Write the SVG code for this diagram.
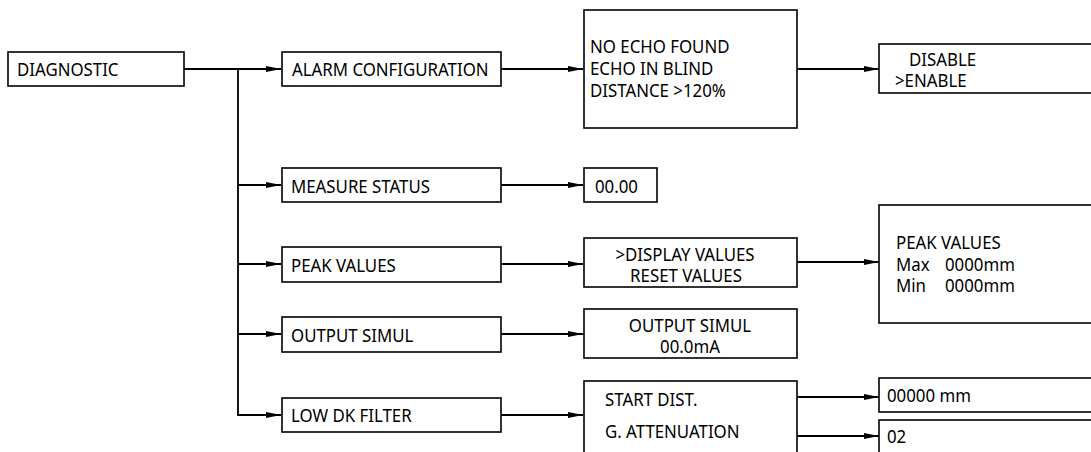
<svg xmlns="http://www.w3.org/2000/svg" width="1091" height="452" viewBox="0 0 1091 452">
<style>
.box{fill:#fff;stroke:#000;stroke-width:1.6}
.t{font-family:"Noto Sans","Liberation Sans",sans-serif;font-size:18.5px;fill:#000;transform-box:fill-box;transform-origin:0 50%;transform:scaleX(0.91)}
.c{text-anchor:middle;transform-origin:50% 50%}
.ln{fill:none;stroke:#000;stroke-width:1.8}
</style>
<defs>
<marker id="ah" markerUnits="userSpaceOnUse" markerWidth="16" markerHeight="8" refX="15" refY="4" orient="auto">
<path d="M0,1 L15,4 L0,7 z" fill="#000"/>
</marker>
</defs>
<g id="connectors">
<path class="ln" d="M184,69 H281" marker-end="url(#ah)"/>
<path class="ln" d="M238,69 V415 H281" marker-end="url(#ah)"/>
<path class="ln" d="M238,185 H281" marker-end="url(#ah)"/>
<path class="ln" d="M238,264 H281" marker-end="url(#ah)"/>
<path class="ln" d="M238,334 H281" marker-end="url(#ah)"/>
<path class="ln" d="M501,69 H583" marker-end="url(#ah)"/>
<path class="ln" d="M501,185 H583" marker-end="url(#ah)"/>
<path class="ln" d="M501,264 H583" marker-end="url(#ah)"/>
<path class="ln" d="M501,334 H583" marker-end="url(#ah)"/>
<path class="ln" d="M501,415 H583" marker-end="url(#ah)"/>
<path class="ln" d="M797,69 H879" marker-end="url(#ah)"/>
<path class="ln" d="M797,262 H879" marker-end="url(#ah)"/>
<path class="ln" d="M797,397 H879" marker-end="url(#ah)"/>
<path class="ln" d="M797,436 H879" marker-end="url(#ah)"/>
</g>
<g id="diagnostic"><rect class="box" x="8" y="52" width="176" height="34"/><text class="t" x="17" y="76">DIAGNOSTIC</text></g>
<g id="alarm"><rect class="box" x="282" y="52" width="219" height="34"/><text class="t" x="292" y="76">ALARM CONFIGURATION</text></g>
<g id="alarm-list"><rect class="box" x="584" y="10" width="213" height="118"/>
<text class="t" x="590" y="53">NO ECHO FOUND</text><text class="t" x="590" y="75">ECHO IN BLIND</text><text class="t" x="590" y="97">DISTANCE &gt;120%</text></g>
<g id="enable"><rect class="box" x="879" y="44" width="220" height="49"/>
<text class="t" x="909" y="66">DISABLE</text><text class="t" x="895" y="87">&gt;ENABLE</text></g>
<g id="measure"><rect class="box" x="282" y="168" width="219" height="34"/><text class="t" x="291" y="193">MEASURE STATUS</text></g>
<g id="measure-val"><rect class="box" x="584" y="168" width="73" height="34"/><text class="t" x="595" y="193">00.00</text></g>
<g id="peak"><rect class="box" x="282" y="247" width="219" height="35"/><text class="t" x="291" y="272">PEAK VALUES</text></g>
<g id="peak-menu"><rect class="box" x="584" y="238" width="213" height="49"/>
<text class="t c" x="685" y="261">&gt;DISPLAY VALUES</text><text class="t c" x="686" y="282">RESET VALUES</text></g>
<g id="peak-display"><rect class="box" x="879" y="205" width="220" height="118"/>
<text class="t" x="896" y="249">PEAK VALUES</text><text class="t" x="896" y="271">Max</text><text class="t" x="945" y="271">0000mm</text><text class="t" x="896" y="292">Min</text><text class="t" x="945" y="292">0000mm</text></g>
<g id="output"><rect class="box" x="282" y="317" width="219" height="35"/><text class="t" x="291" y="342">OUTPUT SIMUL</text></g>
<g id="output-val"><rect class="box" x="584" y="309" width="213" height="49"/>
<text class="t c" x="690" y="332">OUTPUT SIMUL</text><text class="t c" x="690" y="353">00.0mA</text></g>
<g id="lowdk"><rect class="box" x="282" y="398" width="219" height="34"/><text class="t" x="291" y="422">LOW DK FILTER</text></g>
<g id="lowdk-menu"><rect class="box" x="584" y="381" width="213" height="80"/>
<text class="t" x="605" y="406">START DIST.</text><text class="t" x="605" y="438">G. ATTENUATION</text></g>
<g id="start-dist"><rect class="box" x="879" y="378" width="220" height="34"/><text class="t" x="887" y="402">00000 mm</text></g>
<g id="atten"><rect class="box" x="879" y="420" width="220" height="40"/><text class="t" x="887" y="443">02</text></g>
</svg>
